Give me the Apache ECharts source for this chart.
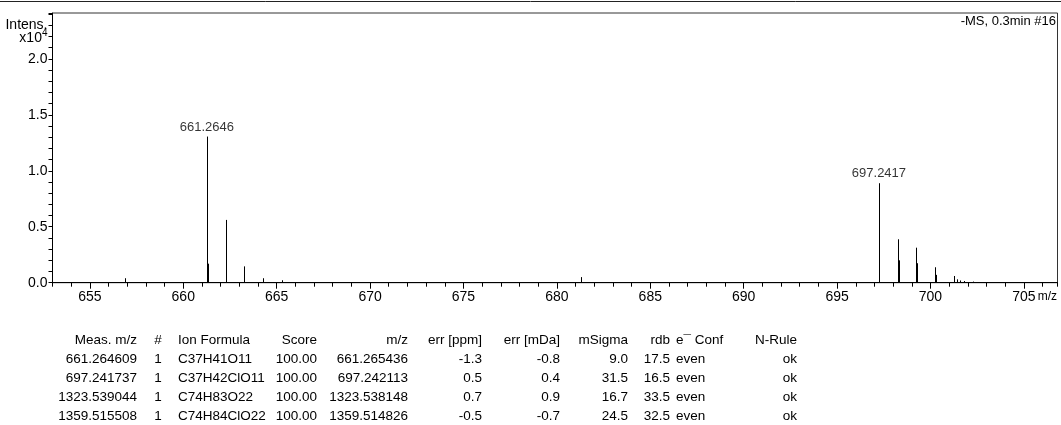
<!DOCTYPE html>
<html>
<head>
<meta charset="utf-8">
<script src="https://cdn.jsdelivr.net/npm/echarts@6/dist/echarts.min.js"></script>
<style>
  html, body { margin: 0; padding: 0; background: #fff; }
  #chart { width: 1061px; height: 425px; }
</style>
</head>
<body>
<div id="chart"></div>
<script>
// Mass spectrum peaks: m/z and intensity (x10^4)
const peakMz = [
  656.90, 661.2646, 661.31, 662.2679, 662.31, 663.27, 664.27, 665.28,
  681.28,
  697.2417, 698.245, 698.29, 699.24, 699.29, 700.24, 700.29,
  701.24, 701.40, 701.58, 701.78, 702.25
];
const peakIntensity = [
  0.04, 1.306, 0.17, 0.561, 0.078, 0.146, 0.04, 0.022,
  0.05,
  0.889, 0.388, 0.20, 0.313, 0.174, 0.138, 0.07,
  0.06, 0.03, 0.02, 0.015, 0.01
];
// Peaks annotated with their m/z
const annotatedMz = [661.2646, 697.2417];

const spectrumTitle = '-MS, 0.3min #16';
const xAxisTitle = 'm/z';
const xMajorTicks = [655, 660, 665, 670, 675, 680, 685, 690, 695, 700, 705];
const yMajorLabels = [0.0, 0.5, 1.0, 1.5, 2.0];
const yUnitLabels = [[2.3, 'Intens.'], [2.2, '{base|x10}{sup|4}']];

// Formula assignment table
const tableHeader = ['Meas. m/z', '#', 'Ion Formula', 'Score', 'm/z', 'err [ppm]', 'err [mDa]', 'mSigma', 'rdb', 'e\u00AF Conf', 'N-Rule'];
const tableRows = [
  ['661.264609', '1', 'C37H41O11', '100.00', '661.265436', '-1.3', '-0.8', '9.0', '17.5', 'even', 'ok'],
  ['697.241737', '1', 'C37H42ClO11', '100.00', '697.242113', '0.5', '0.4', '31.5', '16.5', 'even', 'ok'],
  ['1323.539044', '1', 'C74H83O22', '100.00', '1323.538148', '0.7', '0.9', '16.7', '33.5', 'even', 'ok'],
  ['1359.515508', '1', 'C74H84ClO22', '100.00', '1359.514826', '-0.5', '-0.7', '24.5', '32.5', 'even', 'ok']
];

// Table layout: anchor x and alignment per column, row y positions
const colLayout = [
  { x: 137, align: 'right' }, { x: 158, align: 'center' }, { x: 178, align: 'left' },
  { x: 317, align: 'right' }, { x: 408, align: 'right' }, { x: 482, align: 'right' },
  { x: 560, align: 'right' }, { x: 628, align: 'right' }, { x: 670, align: 'right' },
  { x: 676, align: 'left' }, { x: 797, align: 'right' }
];
const headerY = 340;
const rowStep = 19;

const FONT = '"Liberation Sans", Arial, sans-serif';
const X_MIN = 653.0, X_MAX = 706.8, Y_MAX = 2.41;

const peaks = peakMz.map((mz, i) => [mz, peakIntensity[i]]);
const annotated = annotatedMz.map(mz => [mz, peakIntensity[peakMz.indexOf(mz)]]);

function yLabel(value) {
  const v = Math.round(value * 100) / 100;
  for (const [pos, txt] of yUnitLabels) if (Math.abs(v - pos) < 1e-6) return txt;
  for (const m of yMajorLabels) if (Math.abs(v - m) < 1e-6) return m.toFixed(1);
  return '';
}

const graphics = [
  { type: 'line', shape: { x1: 0, y1: 1.5, x2: 1061, y2: 1.5 }, style: { stroke: '#222', lineWidth: 1 } },
  { type: 'text', x: 1056, y: 21, style: { text: spectrumTitle, font: '13px ' + FONT, fill: '#000', align: 'right', verticalAlign: 'middle' } },
  { type: 'text', x: 1057, y: 297, style: { text: xAxisTitle, font: '12px ' + FONT, fill: '#000', align: 'right', verticalAlign: 'middle' } }
];
[tableHeader].concat(tableRows).forEach((row, r) => {
  row.forEach((cell, c) => {
    graphics.push({
      type: 'text',
      x: colLayout[c].x,
      y: headerY + r * rowStep,
      style: { text: cell, font: '13.5px ' + FONT, fill: '#000', align: colLayout[c].align, verticalAlign: 'middle' }
    });
  });
});

const chart = echarts.init(document.getElementById('chart'), null, { renderer: 'canvas' });
chart.setOption({
  backgroundColor: '#fff',
  animation: false,
  textStyle: { fontFamily: FONT },
  grid: {
    left: 52.5, right: 3.5, top: 13, bottom: 142.3,
    containLabel: false, outerBoundsMode: 'none',
    show: true, borderColor: '#333', borderWidth: 1, backgroundColor: 'transparent'
  },
  xAxis: [
    {
      type: 'value', min: X_MIN, max: X_MAX, interval: 1,
      axisLine: { show: true, onZero: false, lineStyle: { color: '#000', width: 1 } },
      axisTick: { show: true, length: 4, lineStyle: { color: '#000' } },
      axisLabel: { show: false },
      splitLine: { show: false }
    },
    {
      type: 'value', min: X_MIN, max: X_MAX, position: 'bottom',
      axisLine: { show: false },
      axisTick: { show: true, length: 6, customValues: xMajorTicks, lineStyle: { color: '#000' } },
      axisLabel: { show: true, customValues: xMajorTicks, fontSize: 14, color: '#000', margin: 7, fontFamily: FONT },
      splitLine: { show: false }
    }
  ],
  yAxis: {
    type: 'value', min: 0, max: Y_MAX, interval: 0.1,
    axisLine: { show: true, lineStyle: { color: '#000', width: 1 } },
    axisTick: { show: true, length: 4, lineStyle: { color: '#000' } },
    axisLabel: {
      formatter: yLabel, fontSize: 14, color: '#000', margin: 5, fontFamily: FONT,
      showMinLabel: true, showMaxLabel: true,
      rich: {
        base: { fontSize: 14, padding: [3, 0, 0, 0], fontFamily: FONT, color: '#000' },
        sup: { fontSize: 10, padding: [0, 0, 6, 0], fontFamily: FONT, color: '#000' }
      }
    },
    splitLine: { show: false }
  },
  series: [
    {
      type: 'custom',
      xAxisIndex: 0, yAxisIndex: 0,
      data: peaks,
      clip: true,
      renderItem: function (params, api) {
        const top = api.coord([api.value(0), api.value(1)]);
        const base = api.coord([api.value(0), 0]);
        const x = Math.round(top[0]) + 0.5;
        return {
          type: 'line',
          shape: { x1: x, y1: top[1], x2: x, y2: base[1] },
          style: { stroke: '#000', lineWidth: 1 }
        };
      }
    },
    {
      type: 'scatter',
      xAxisIndex: 0, yAxisIndex: 0,
      data: annotated,
      symbolSize: 0,
      silent: true,
      label: {
        show: true, position: 'top', distance: 3,
        formatter: p => p.value[0].toFixed(4),
        fontSize: 13, color: '#000', fontFamily: FONT
      }
    }
  ],
  graphic: graphics
});
</script>
</body>
</html>
